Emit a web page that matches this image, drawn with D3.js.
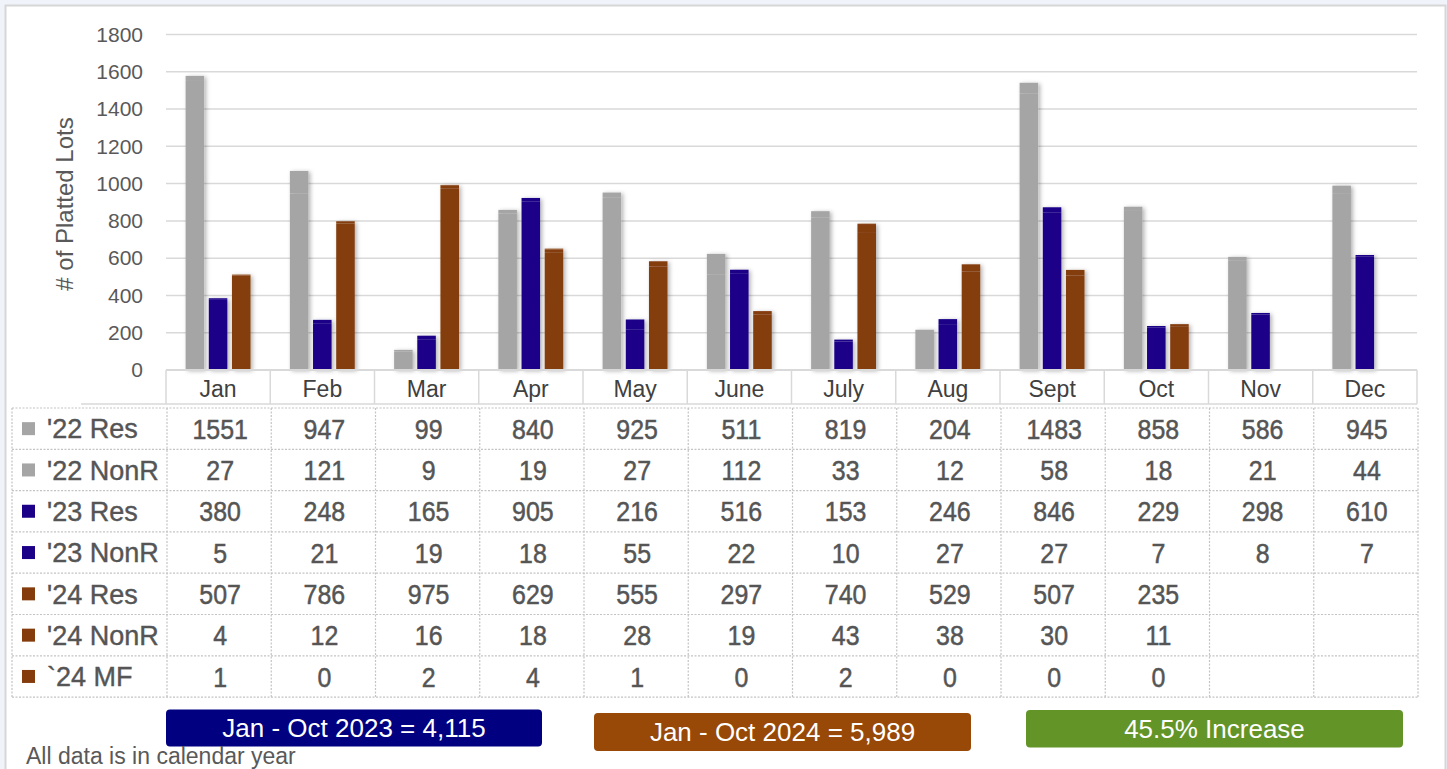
<!DOCTYPE html>
<html>
<head>
<meta charset="utf-8">
<script src="https://cdn.jsdelivr.net/npm/d3@7"></script>
<style>
  html, body { margin: 0; padding: 0; background: #f0f4fa; }
  svg { display: block; font-family: "Liberation Sans", Arial, sans-serif; }
</style>
</head>
<body>
<div id="chart"></div>
<script>
// Data
const months = ['Jan', 'Feb', 'Mar', 'Apr', 'May', 'June', 'July', 'Aug', 'Sept', 'Oct', 'Nov', 'Dec'];
const res22 = [1551, 947, 99, 840, 925, 511, 819, 204, 1483, 858, 586, 945];
const nonr22 = [27, 121, 9, 19, 27, 112, 33, 12, 58, 18, 21, 44];
const res23 = [380, 248, 165, 905, 216, 516, 153, 246, 846, 229, 298, 610];
const nonr23 = [5, 21, 19, 18, 55, 22, 10, 27, 27, 7, 8, 7];
const res24 = [507, 786, 975, 629, 555, 297, 740, 529, 507, 235, null, null];
const nonr24 = [4, 12, 16, 18, 28, 19, 43, 38, 30, 11, null, null];
const mf24 = [1, 0, 2, 4, 1, 0, 2, 0, 0, 0, null, null];
const yTicks = [0, 200, 400, 600, 800, 1000, 1200, 1400, 1600, 1800];
const rowLabels = ["'22 Res", "'22 NonR", "'23 Res", "'23 NonR", "'24 Res", "'24 NonR", "`24 MF"];
const rowYears = ['22', '22', '23', '23', '24', '24', '24'];
const summaryTexts = ['Jan - Oct 2023 = 4,115', 'Jan - Oct 2024 = 5,989', '45.5% Increase'];

const years = ['22', '23', '24'];
const yearColor = { '22': '#a5a5a5', '23': '#1c0088', '24': '#843c0c' };
const rows = [res22, nonr22, res23, nonr23, res24, nonr24, mf24];

const W = 1447, H = 769;
const svg = d3.select('#chart').append('svg')
    .attr('width', W)
    .attr('height', H);

// drop shadow for the bars
const defs = svg.append('defs');
const filt = defs.append('filter').attr('id', 'shadow')
    .attr('x', '-30%').attr('y', '-5%').attr('width', '160%').attr('height', '110%');
filt.append('feDropShadow')
    .attr('dx', 2).attr('dy', 1)
    .attr('stdDeviation', 2)
    .attr('flood-color', '#000')
    .attr('flood-opacity', 0.3);

// white panel
svg.append('rect')
    .attr('x', 5.5).attr('y', 5.5)
    .attr('width', 1440).attr('height', 780)
    .attr('fill', '#fff')
    .attr('stroke', '#d6d6d6')
    .attr('stroke-width', 2);

const plotLeft = 166, plotRight = 1417;
const x = d3.scaleBand().domain(months).range([plotLeft, plotRight]);
const xs = d3.scaleBand().domain(years).range([17.3, 86.8]).paddingInner(0.2).paddingOuter(0.1);
const y = d3.scaleLinear().domain([0, 1800]).range([370, 34.5]);

// gridlines
svg.append('g')
    .selectAll('line')
    .data(yTicks.slice(1))
    .join('line')
    .attr('x1', plotLeft).attr('x2', plotRight)
    .attr('y1', d => y(d)).attr('y2', d => y(d))
    .attr('stroke', '#d9d9d9')
    .attr('stroke-width', 1.5);

// y axis labels
const yAxis = svg.append('g')
    .attr('transform', `translate(143,0)`)
    .call(d3.axisLeft(y).tickValues(yTicks).tickFormat(d3.format('d')).tickSize(0).tickPadding(0));
yAxis.select('.domain').remove();
yAxis.selectAll('text')
    .attr('fill', '#595959')
    .style('font-size', '21px')
    .style('font-family', '"Liberation Sans", Arial, sans-serif');

svg.append('text')
    .attr('transform', 'translate(73,204) rotate(-90)')
    .attr('text-anchor', 'middle')
    .attr('fill', '#595959')
    .style('font-size', '24px')
    .text('# of Platted Lots');

// stacked columns, one stack per year
const stackDefs = {
    '22': [res22, nonr22],
    '23': [res23, nonr23],
    '24': [res24, nonr24, mf24]
};
const bars = svg.append('g').attr('filter', 'url(#shadow)');
years.forEach(yr => {
    const series = stackDefs[yr];
    const table = months.map((m, i) => {
        const o = { month: m };
        series.forEach((s, k) => { o['s' + k] = s[i] == null ? 0 : s[i]; });
        return o;
    });
    const stacked = d3.stack().keys(series.map((s, k) => 's' + k))(table);
    stacked.forEach(layer => {
        bars.append('g')
            .selectAll('rect')
            .data(layer.filter(d => d[1] - d[0] > 0))
            .join('rect')
            .attr('x', d => x(d.data.month) + xs(yr))
            .attr('width', xs.bandwidth())
            .attr('y', d => y(d[1]))
            .attr('height', d => y(d[0]) - y(d[1]))
            .attr('fill', yearColor[yr]);
    });
});

// category axis boxes
const catG = svg.append('g');
catG.append('line')
    .attr('x1', 81).attr('x2', plotRight)
    .attr('y1', 404).attr('y2', 404)
    .attr('stroke', '#d9d9d9').attr('stroke-width', 1.5);
catG.append('line')
    .attr('x1', plotLeft).attr('x2', plotRight)
    .attr('y1', 370).attr('y2', 370)
    .attr('stroke', '#d9d9d9').attr('stroke-width', 2);
catG.selectAll('line.sep')
    .data(months.concat(['end']))
    .join('line')
    .attr('class', 'sep')
    .attr('x1', d => d === 'end' ? plotRight : x(d))
    .attr('x2', d => d === 'end' ? plotRight : x(d))
    .attr('y1', 370).attr('y2', 404)
    .attr('stroke', '#d9d9d9').attr('stroke-width', 1.5);
catG.selectAll('text')
    .data(months)
    .join('text')
    .attr('x', d => x(d) + x.bandwidth() / 2)
    .attr('y', 396.5)
    .attr('text-anchor', 'middle')
    .attr('fill', '#404040')
    .style('font-size', '23px')
    .text(d => d);

// data table
const tableTop = 408, rowH = 41.3, tableLeft = 12;
const tbl = svg.append('g');
const gridStyle = sel => sel.attr('stroke', '#c4c4c4').attr('stroke-width', 1.2).attr('stroke-dasharray', '2,1.5');
for (let r = 0; r <= rows.length; r++) {
    tbl.append('line')
        .attr('x1', tableLeft).attr('x2', plotRight + 1)
        .attr('y1', tableTop + r * rowH).attr('y2', tableTop + r * rowH)
        .call(gridStyle);
}
const colEdges = [tableLeft].concat(months.map(m => x(m) + 1)).concat([plotRight + 1]);
colEdges.forEach(cx => {
    tbl.append('line')
        .attr('x1', cx).attr('x2', cx)
        .attr('y1', tableTop).attr('y2', tableTop + rows.length * rowH)
        .call(gridStyle);
});

rows.forEach((vals, r) => {
    const cy = tableTop + r * rowH + rowH / 2;
    tbl.append('rect')
        .attr('x', 22).attr('y', cy - 6.5)
        .attr('width', 13).attr('height', 13)
        .attr('fill', yearColor[rowYears[r]]);
    tbl.append('text')
        .attr('x', 47).attr('y', cy)
        .attr('dy', '0.36em')
        .attr('fill', '#555')
        .attr('stroke', '#555').attr('stroke-width', 0.4)
        .style('font-size', '27px')
        .text(rowLabels[r]);
    tbl.append('g')
        .selectAll('text')
        .data(vals.map((v, i) => ({ v, m: months[i] })).filter(d => d.v != null))
        .join('text')
        .attr('transform', d => `translate(${x(d.m) + x.bandwidth() / 2 + 2},${cy}) scale(0.89,1)`)
        .attr('dy', '0.36em')
        .attr('text-anchor', 'middle')
        .attr('fill', '#555')
        .attr('stroke', '#555').attr('stroke-width', 0.5)
        .style('font-size', '28px')
        .text(d => d.v);
});

// summary boxes
const boxes = [
    { x: 166, y: 709.5, w: 376, h: 37, fill: '#000080' },
    { x: 594, y: 713, w: 377, h: 38, fill: '#984807' },
    { x: 1026, y: 710, w: 377, h: 37.5, fill: '#629428' }
];
boxes.forEach((b, i) => {
    svg.append('rect')
        .attr('x', b.x).attr('y', b.y)
        .attr('width', b.w).attr('height', b.h)
        .attr('rx', 4)
        .attr('fill', b.fill);
    svg.append('text')
        .attr('x', b.x + b.w / 2).attr('y', b.y + b.h / 2)
        .attr('dy', '0.36em')
        .attr('text-anchor', 'middle')
        .attr('fill', '#fff')
        .style('font-size', '26px')
        .text(summaryTexts[i]);
});

svg.append('text')
    .attr('x', 26).attr('y', 764)
    .attr('fill', '#595959')
    .style('font-size', '23px')
    .text('All data is in calendar year');
</script>
</body>
</html>
